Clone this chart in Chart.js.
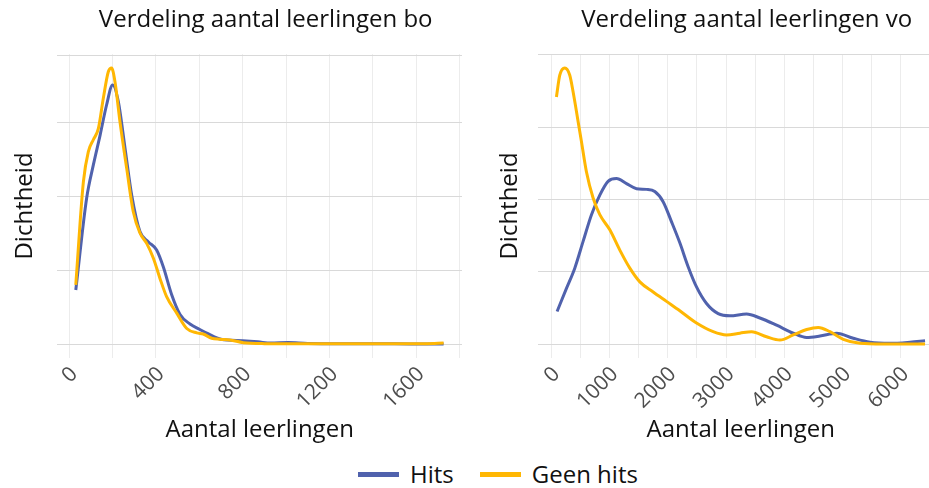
<!DOCTYPE html>
<html>
<head>
<meta charset="utf-8">
<script src="https://cdn.jsdelivr.net/npm/chart.js@4.4.1/dist/chart.umd.min.js"></script>
<style>
    html, body { margin: 0; padding: 0; background: #fff; overflow: hidden; }
    body { width: 929px; height: 488px; position: relative; font-family: "Open Sans", sans-serif; }
    canvas { position: absolute; top: 0; }
    #bo { left: 0; }
    #vo { left: 470px; }
    #legend { position: absolute; left: 358px; top: 459px; height: 30px; display: flex; align-items: center; font-size: 24px; line-height: 30px; color: #111; }
    #legend .key { display: inline-block; width: 41px; height: 5px; margin-right: 11px; }
    #legend .gap { width: 26px; }
</style>
</head>
<body>
<canvas id="bo" width="470" height="450"></canvas>
<canvas id="vo" width="480" height="450"></canvas>
<div id="legend">
    <span class="key" id="keyHits"></span><span>Hits</span><span class="gap"></span>
    <span class="key" id="keyGeen"></span><span>Geen hits</span>
</div>
<script>
// density in units of 0.001 (bo) and 0.0001 (vo)
const BO_HITS_X = [30, 80, 111, 142, 172, 200, 226, 257, 288, 326, 365, 403, 434, 472, 511, 557, 600, 640, 700, 800, 870, 930, 1010, 1100, 1300, 1500, 1727];
const BO_HITS_Y = [0.73, 1.97, 2.42, 2.82, 3.23, 3.50, 3.28, 2.65, 2.01, 1.52, 1.38, 1.27, 1.04, 0.67, 0.40, 0.27, 0.20, 0.14, 0.065, 0.045, 0.03, 0.012, 0.02, 0.008, 0.004, 0.002, 0.0];
const BO_GEEN_X = [30, 65, 88, 111, 134, 157, 180, 195, 211, 234, 265, 295, 326, 357, 388, 418, 449, 495, 542, 588, 618, 657, 695, 741, 803, 900, 1100, 1400, 1650, 1727];
const BO_GEEN_Y = [0.80, 2.19, 2.60, 2.76, 2.91, 3.32, 3.68, 3.73, 3.54, 3.00, 2.37, 1.79, 1.50, 1.36, 1.16, 0.89, 0.64, 0.42, 0.21, 0.15, 0.135, 0.077, 0.064, 0.054, 0.018, 0.005, 0.002, 0.002, 0.005, 0.014];

const VO_HITS_X = [97, 258, 401, 544, 688, 831, 973, 1118, 1290, 1462, 1634, 1776, 1919, 2064, 2206, 2349, 2493, 2665, 2865, 3066, 3353, 3582, 3869, 4155, 4385, 4614, 4901, 5187, 5474, 5818, 6162, 6420];
const VO_HITS_Y = [0.45, 0.77, 1.05, 1.42, 1.79, 2.06, 2.25, 2.29, 2.22, 2.15, 2.14, 2.11, 1.97, 1.69, 1.40, 1.07, 0.79, 0.56, 0.42, 0.39, 0.415, 0.36, 0.26, 0.15, 0.09, 0.11, 0.15, 0.08, 0.025, 0.01, 0.025, 0.045];
const VO_GEEN_X = [86, 143, 229, 315, 372, 458, 516, 602, 716, 831, 1003, 1175, 1347, 1519, 1748, 1977, 2206, 2493, 2779, 3009, 3238, 3439, 3697, 3926, 4155, 4385, 4585, 4786, 5015, 5302, 5700, 6420];
const VO_GEEN_Y = [3.42, 3.72, 3.82, 3.72, 3.49, 3.08, 2.80, 2.38, 2.02, 1.79, 1.58, 1.30, 1.05, 0.86, 0.72, 0.59, 0.46, 0.29, 0.17, 0.125, 0.15, 0.17, 0.10, 0.055, 0.125, 0.20, 0.23, 0.17, 0.065, 0.01, 0.0, 0.0];

const BO_GRID_X = [0, 200, 400, 600, 800, 1000, 1200, 1400, 1600, 1800];
const BO_TICKS = [0, 400, 800, 1200, 1600];
const BO_GRID_Y = [0, 1, 2, 3, 3.9];
const VO_GRID_X = [0, 500, 1000, 1500, 2000, 2500, 3000, 3500, 4000, 4500, 5000, 5500, 6000, 6500];
const VO_TICKS = [0, 1000, 2000, 3000, 4000, 5000, 6000];
const VO_GRID_Y = [0, 1, 2, 3, 4];

const BLUE = "#5062ad";
const YELLOW = "#ffb703";
const FONT = "Open Sans";

document.getElementById("keyHits").style.background = BLUE;
document.getElementById("keyGeen").style.background = YELLOW;

const xy = (xs, ys) => xs.map((x, i) => ({ x, y: ys[i] }));

const panelTitle = {
    id: "panelTitle",
    afterDraw(chart, args, opts) {
        const { ctx, chartArea } = chart;
        ctx.save();
        ctx.font = `24px "${FONT}"`;
        ctx.fillStyle = "#111";
        ctx.textAlign = "center";
        ctx.textBaseline = "middle";
        ctx.fillText(opts.text, (chartArea.left + chartArea.right) / 2 + 6, 20);
        ctx.restore();
    }
};

function renderPanel(canvasId, p) {
    new Chart(document.getElementById(canvasId), {
        type: "line",
        data: {
            datasets: [
                { label: "Hits", data: xy(p.hitsX, p.hitsY), borderColor: BLUE, order: 1 },
                { label: "Geen hits", data: xy(p.geenX, p.geenY), borderColor: YELLOW, order: 0 }
            ]
        },
        options: {
            responsive: false,
            animation: false,
            layout: { padding: { top: 54.2, left: 0, right: p.padRight, bottom: 0 } },
            elements: {
                point: { radius: 0 },
                line: { borderWidth: 3, cubicInterpolationMode: "monotone" }
            },
            plugins: {
                legend: { display: false },
                tooltip: { enabled: false },
                panelTitle: { text: p.title }
            },
            scales: {
                x: {
                    type: "linear",
                    min: p.xMin,
                    max: p.xMax,
                    afterBuildTicks: s => { s.ticks = p.gridX.map(v => ({ value: v })); },
                    afterFit: s => { s.height = 92.2; s.paddingLeft = 0; s.paddingRight = 0; },
                    border: { display: false },
                    grid: { color: "#ececec", drawTicks: false },
                    ticks: {
                        autoSkip: false,
                        minRotation: 45,
                        maxRotation: 45,
                        padding: 4,
                        labelOffset: 5,
                        color: "#4d4d4d",
                        font: { size: 21, family: FONT },
                        callback: v => p.ticks.includes(v) ? String(v) : ""
                    },
                    title: {
                        display: true,
                        text: "Aantal leerlingen",
                        color: "#111",
                        font: { size: 24, family: FONT },
                        padding: { top: 0, bottom: 5 }
                    }
                },
                y: {
                    min: p.yMin,
                    max: p.yMax,
                    afterBuildTicks: s => { s.ticks = p.gridY.map(v => ({ value: v })); },
                    afterFit: s => { s.width = p.yWidth; },
                    border: { display: false },
                    grid: { color: "#d9d9d9", drawTicks: false },
                    ticks: { display: false },
                    title: {
                        display: true,
                        text: "Dichtheid",
                        color: "#111",
                        font: { size: 24, family: FONT },
                        padding: { top: p.yTitlePad, bottom: 0 }
                    }
                }
            }
        },
        plugins: [panelTitle]
    });
}

renderPanel("bo", {
    title: "Verdeling aantal leerlingen bo",
    hitsX: BO_HITS_X, hitsY: BO_HITS_Y, geenX: BO_GEEN_X, geenY: BO_GEEN_Y,
    gridX: BO_GRID_X, ticks: BO_TICKS, gridY: BO_GRID_Y,
    xMin: -54.85, xMax: 1811.85, yMin: -0.1865, yMax: 3.9165,
    yWidth: 57.4, yTitlePad: 10.6, padRight: 8
});

renderPanel("vo", {
    title: "Verdeling aantal leerlingen vo",
    hitsX: VO_HITS_X, hitsY: VO_HITS_Y, geenX: VO_GEEN_X, geenY: VO_GEEN_Y,
    gridX: VO_GRID_X, ticks: VO_TICKS, gridY: VO_GRID_Y,
    xMin: -231, xMax: 6737, yMin: -0.191, yMax: 4.011,
    yWidth: 68, yTitlePad: 25.6, padRight: 6.5
});
</script>
</body>
</html>
